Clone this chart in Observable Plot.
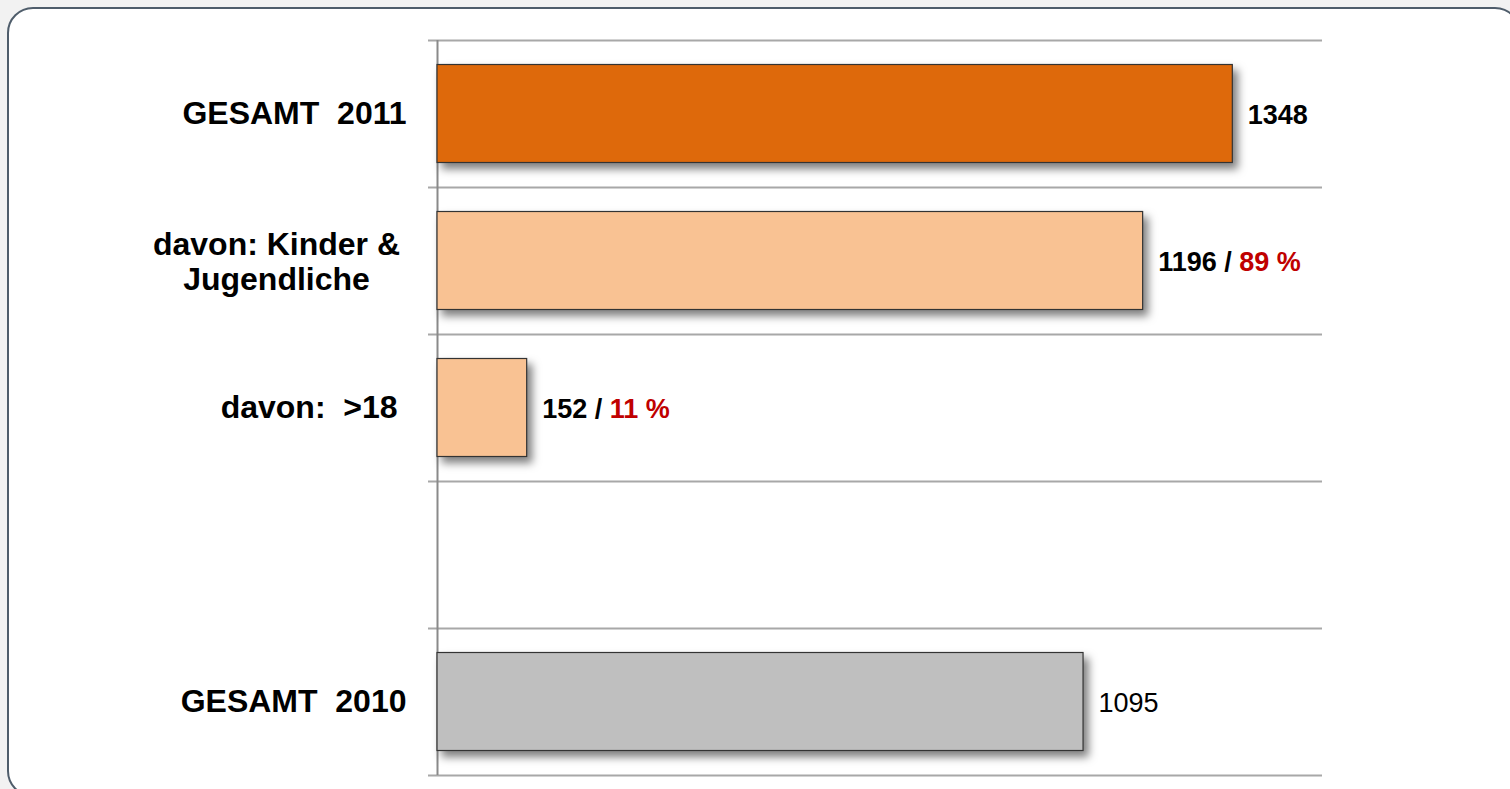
<!DOCTYPE html>
<html>
<head>
<meta charset="utf-8">
<script src="https://cdn.jsdelivr.net/npm/d3@7"></script>
<script src="https://cdn.jsdelivr.net/npm/@observablehq/plot@0.6"></script>
<style>
  html, body { margin: 0; padding: 0; background: #f2f2f2; width: 1510px; height: 789px; overflow: hidden; }
  #card { position: absolute; left: 7px; top: 7px; width: 1514px; height: 790px; border: 2px solid #4f5d6b;
          border-radius: 26px; background: #ffffff; box-sizing: border-box; }
  #chart { position: absolute; left: 0; top: 0; }
</style>
</head>
<body>
<div id="card"></div>
<div id="chart"></div>
<script>
// ---- data ----
const categories = ["GESAMT\u00a0 2011", "davon: Kinder &\nJugendliche", "davon:\u00a0 >18\u00a0", "", "GESAMT\u00a0 2010"];
const values = [1348, 1196, 152, null, 1095];
const shares = [null, 89, 11, null, null];
const groups = ["gesamt2011", "teil2011", "teil2011", null, "gesamt2010"];
const xDomain = [0, 1500];

// ---- layout ----
const W = 1510, H = 789;
const mTop = 40, mBottom = 14, mLeft = 437, mRight = 188;
const step = (H - mTop - mBottom) / categories.length;

const rows = categories.map((c, i) => ({category: c, value: values[i], share: shares[i], group: groups[i]}));
const bars = rows.filter(d => d.value != null);
const lastCat = categories[categories.length - 1];

const font = "'Liberation Sans', Arial, Helvetica, sans-serif";

const chart = Plot.plot({
  width: W,
  height: H,
  marginTop: mTop,
  marginBottom: mBottom,
  marginLeft: mLeft,
  marginRight: mRight,
  style: {background: "transparent", fontFamily: font, maxWidth: "none", overflow: "visible"},
  x: {domain: xDomain, axis: null},
  y: {domain: categories, padding: 0, axis: null},
  color: {domain: ["gesamt2011", "teil2011", "gesamt2010"], range: ["#DE690B", "#F9C293", "#BFBFBF"]},
  marks: [
    Plot.ruleY(categories, {y: d => d, dy: -step / 2, insetLeft: -9, stroke: "#a8a8a8", strokeWidth: 2}),
    Plot.ruleY([lastCat], {y: d => d, dy: step / 2, insetLeft: -9, stroke: "#a8a8a8", strokeWidth: 2}),
    Plot.ruleX([0], {stroke: "#8a8a8a", strokeWidth: 2}),
    Plot.barX(bars, {x: "value", y: "category", fill: "group", stroke: "#333333", strokeWidth: 1.2,
      insetTop: step / 6, insetBottom: step / 6}),
    Plot.text(bars.filter(d => d.category !== lastCat), {
      x: "value", y: "category",
      text: d => d.share != null ? `${d.value} / ${d.share} %` : `${d.value}`,
      textAnchor: "start", dx: 15, dy: 1, fontSize: 27, fontWeight: "bold", fill: "#000"}),
    Plot.text(bars.filter(d => d.category === lastCat), {
      x: "value", y: "category", text: d => `${d.value}`,
      textAnchor: "start", dx: 15, dy: 1, fontSize: 27, fontWeight: "normal", fill: "#000"}),
    Plot.text(categories.filter(c => c && !c.includes("\n")), {
      y: d => d, text: d => d, frameAnchor: "left", dx: -31, textAnchor: "end",
      fontSize: 32, fontWeight: "bold", fill: "#000"}),
    Plot.text(categories.filter(c => c.includes("\n")), {
      y: d => d, text: d => d, frameAnchor: "left", dx: -161, textAnchor: "middle", lineHeight: 1.1,
      fontSize: 32, fontWeight: "bold", fill: "#000"})
  ]
});

// shadow on bars
d3.select(chart).selectAll('g[aria-label="bar"]').style("filter", "drop-shadow(5px 6px 4px rgba(0,0,0,0.5))");

// colour the share part of value labels
d3.select(chart).selectAll("text").each(function () {
  const t = this.textContent;
  const k = t.indexOf(" / ");
  if (k < 0 || this.querySelector("tspan")) return;
  const sel = d3.select(this);
  sel.text(null);
  sel.append("tspan").text(t.slice(0, k + 3));
  sel.append("tspan").attr("fill", "#C00000").text(t.slice(k + 3));
});

document.getElementById("chart").append(chart);
</script>
</body>
</html>
